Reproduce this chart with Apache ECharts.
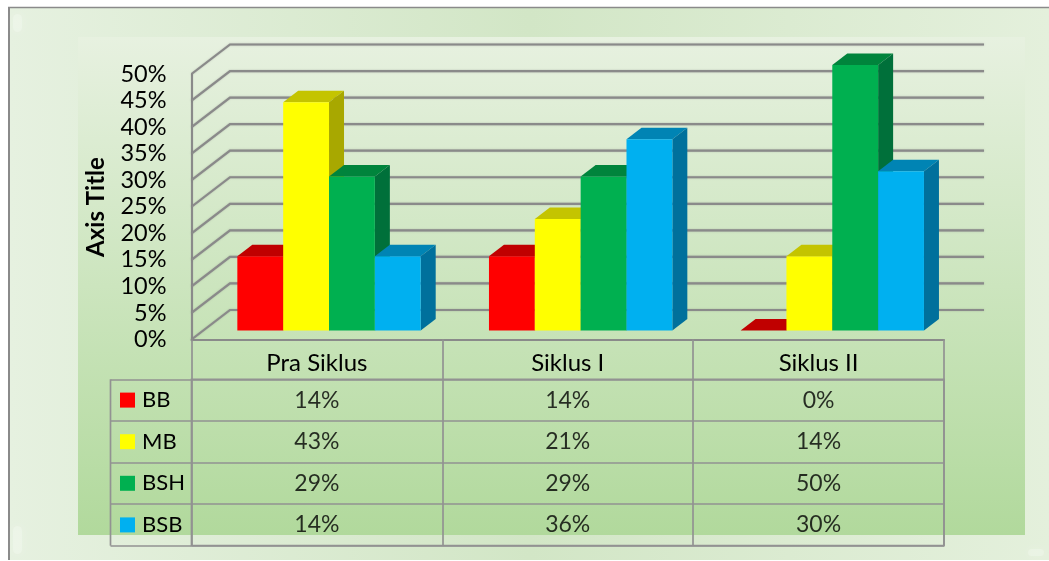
<!DOCTYPE html>
<html><head><meta charset="utf-8">
<style>html,body{margin:0;padding:0;background:#fff}#c{width:1049px;height:561px}</style>
<script src="https://cdn.jsdelivr.net/npm/echarts@6/dist/echarts.min.js"></script>
</head><body><div id="c"></div>
<script>
const categories = ['Pra Siklus', 'Siklus I', 'Siklus II'];
const seriesNames = ['BB', 'MB', 'BSH', 'BSB'];
const BB = [14, 14, 0];
const MB = [43, 21, 14];
const BSH = [29, 29, 50];
const BSB = [14, 36, 30];
const seriesValues = [BB, MB, BSH, BSB];
const yTicks = [0, 5, 10, 15, 20, 25, 30, 35, 40, 45, 50];
const frontColors = ['#ff0000', '#ffff00', '#00b050', '#00b0f0'];
const topColors = ['#c00000', '#c4c400', '#00843c', '#0084b4'];
const sideColors = ['#c00000', '#a8a800', '#00703a', '#00709c'];

const GRAY = '#8a8a8a', TABLE_GRAY = '#929292', FONT = 'Lato', TXT = '#000';
const WALL = [38.5, -29.5], PLANE = [12.1, -9], PLANE_STRETCH = 0.8, DEPTH = [15, -11.5];
const GROUP = 0.731;   // share of the category band used by the four bars

const chart = echarts.init(document.getElementById('c'), null, {renderer: 'canvas'});

function wallItem(params, api) {
  const y = api.coord([0, api.value(0)])[1];
  const left = params.coordSys.x, right = left + params.coordSys.width;
  const p0 = [left, y];
  const p1 = [left + WALL[0], y + WALL[1]];
  const p2 = [right + WALL[0] + 1.5, p1[1]];
  return {type: 'polyline', shape: {points: [p0, p1, p2]},
          style: {stroke: GRAY, lineWidth: 2.2, fill: null, shadowBlur: 1.5, shadowColor: 'rgba(120,120,120,0.5)'}, silent: true};
}

function barItem(si) {
  return function (params, api) {
    const c = api.value(0), v = api.value(1);
    const base = api.coord([c, 0]), top = api.coord([c, v]);
    const band = api.size([1, 0])[0];
    const w = band * GROUP / 4;
    const x0 = base[0] - 2 * w + si * w + PLANE[0] + c * PLANE_STRETCH;
    const x1 = x0 + w;
    const yb = base[1] + PLANE[1], yt = top[1] + PLANE[1];
    const dx = DEPTH[0], dy = DEPTH[1];
    const children = [
      {type: 'polygon', shape: {points: [[x0, yt], [x1, yt], [x1 + dx, yt + dy], [x0 + dx, yt + dy]]}, style: {fill: topColors[si]}},
      {type: 'polygon', shape: {points: [[x1, yt], [x1 + dx, yt + dy], [x1 + dx, yb + dy], [x1, yb]]}, style: {fill: sideColors[si]}},
      {type: 'rect', shape: {x: x0, y: yt, width: w, height: yb - yt}, style: {fill: frontColors[si]}}
    ];
    if (v === 0) children.length = 1;
    return {type: 'group', children};
  };
}

const rich = {t: {fontFamily: FONT, fontSize: 22, color: TXT, padding: [0, 0, 0, 7], verticalAlign: 'middle'}};
seriesNames.forEach((n, i) => { rich['s' + i] = {width: 15, height: 15, backgroundColor: frontColors[i], verticalAlign: 'middle'}; });

const cellData = [];
seriesValues.forEach((vals, r) => vals.forEach((v, c) => cellData.push([c, r, v])));

const series = [
  {type: 'custom', name: 'walls', xAxisIndex: 0, yAxisIndex: 0, z: 1, silent: true,
   data: yTicks.map(v => [v]), encode: {y: 0}, renderItem: wallItem, clip: false}
];
seriesNames.forEach((n, si) => {
  series.push({type: 'custom', name: n, xAxisIndex: 0, yAxisIndex: 0, z: 3 + si, clip: false,
    data: seriesValues[si].map((v, c) => [c, v]), encode: {x: 0, y: 1}, renderItem: barItem(si)});
});
series.push({type: 'scatter', name: 'table', xAxisIndex: 1, yAxisIndex: 1, z: 5, symbolSize: 0, silent: true,
  data: cellData,
  label: {show: true, position: 'inside', formatter: p => p.value[2] + '%',
          fontFamily: FONT, fontSize: 23, color: TXT}});

function speck(x, y, w, h) {
  return {type: 'rect', z: -7, silent: true, shape: {x, y, width: w, height: h, r: 5},
    style: {fill: 'rgba(255,255,255,0.22)', shadowBlur: 8, shadowColor: 'rgba(255,255,255,0.5)'}};
}

chart.setOption({
  animation: false,
  textStyle: {fontFamily: FONT},
  graphic: [
    {type: 'rect', z: -10, silent: true, shape: {x: 9, y: 7.5, width: 1040, height: 552.5},
     style: {fill: {type: 'linear', x: 0, y: 0, x2: 1, y2: 0, colorStops: [
       {offset: 0, color: '#e6f1e0'}, {offset: 0.5, color: '#d2e6c6'}, {offset: 1, color: '#e4f0dc'}]}}},
    speck(13, 14, 9, 18), speck(13, 526, 9, 28), speck(1028, 549, 16, 7),
    {type: 'line', z: -9, silent: true, shape: {x1: 8, y1: 7.5, x2: 1049, y2: 7.5}, style: {stroke: '#8a8a8a', lineWidth: 1.5}},
    {type: 'line', z: -9, silent: true, shape: {x1: 9, y1: 7.5, x2: 9, y2: 560}, style: {stroke: '#8a8a8a', lineWidth: 2}},
    {type: 'rect', z: -8, silent: true, shape: {x: 78, y: 37, width: 947, height: 498},
     style: {fill: {type: 'linear', x: 0, y: 0, x2: 0, y2: 1, colorStops: [
       {offset: 0, color: '#e7f1e0'}, {offset: 1, color: '#b1d99c'}]}}},
    {type: 'line', z: 4, silent: true, shape: {x1: 110.5, y1: 379.3, x2: 110.5, y2: 545.7}, style: {stroke: TABLE_GRAY, lineWidth: 1.7}},
    {type: 'text', z: 6, silent: true, x: 96, y: 207, rotation: Math.PI / 2,
     style: {text: 'Axis Title', fontFamily: FONT, fontWeight: 'bold', fontSize: 24, fill: '#000', align: 'center', verticalAlign: 'middle'}}
  ],
  grid: [
    {left: 191.5, top: 74, width: 752.5, height: 265.5, containLabel: false},
    {left: 191.5, top: 379.3, width: 752.5, height: 166.4, show: true, borderColor: TABLE_GRAY, borderWidth: 1.7, backgroundColor: 'transparent'}
  ],
  xAxis: [
    {type: 'category', gridIndex: 0, data: categories, boundaryGap: true,
     axisLine: {lineStyle: {color: GRAY, width: 2.2}},
     axisTick: {show: true, length: 40, lineStyle: {color: TABLE_GRAY, width: 1.7}},
     axisLabel: {margin: 12, fontFamily: FONT, fontSize: 24, color: TXT},
     splitLine: {show: false}},
    {type: 'category', gridIndex: 1, data: categories, position: 'top',
     axisLine: {show: false}, axisTick: {show: false}, axisLabel: {show: false},
     splitLine: {show: true, lineStyle: {color: TABLE_GRAY, width: 1.7}}}
  ],
  yAxis: [
    {type: 'value', gridIndex: 0, min: 0, max: 50, interval: 5,
     axisLine: {show: true, lineStyle: {color: GRAY, width: 2.2}}, axisTick: {show: false},
     axisLabel: {margin: 25, fontFamily: FONT, fontSize: 23.5, color: TXT, formatter: v => v + '%'},
     splitLine: {show: false}},
    {type: 'category', gridIndex: 1, data: seriesNames, inverse: true,
     axisLine: {show: false},
     axisTick: {show: true, length: 81, lineStyle: {color: TABLE_GRAY, width: 1.7}},
     axisLabel: {align: 'left', margin: 71.5, rich,
       formatter: n => '{s' + seriesNames.indexOf(n) + '|}{t|' + n + '}'},
     splitLine: {show: true, lineStyle: {color: TABLE_GRAY, width: 1.7}}}
  ],
  series
});
</script></body></html>
